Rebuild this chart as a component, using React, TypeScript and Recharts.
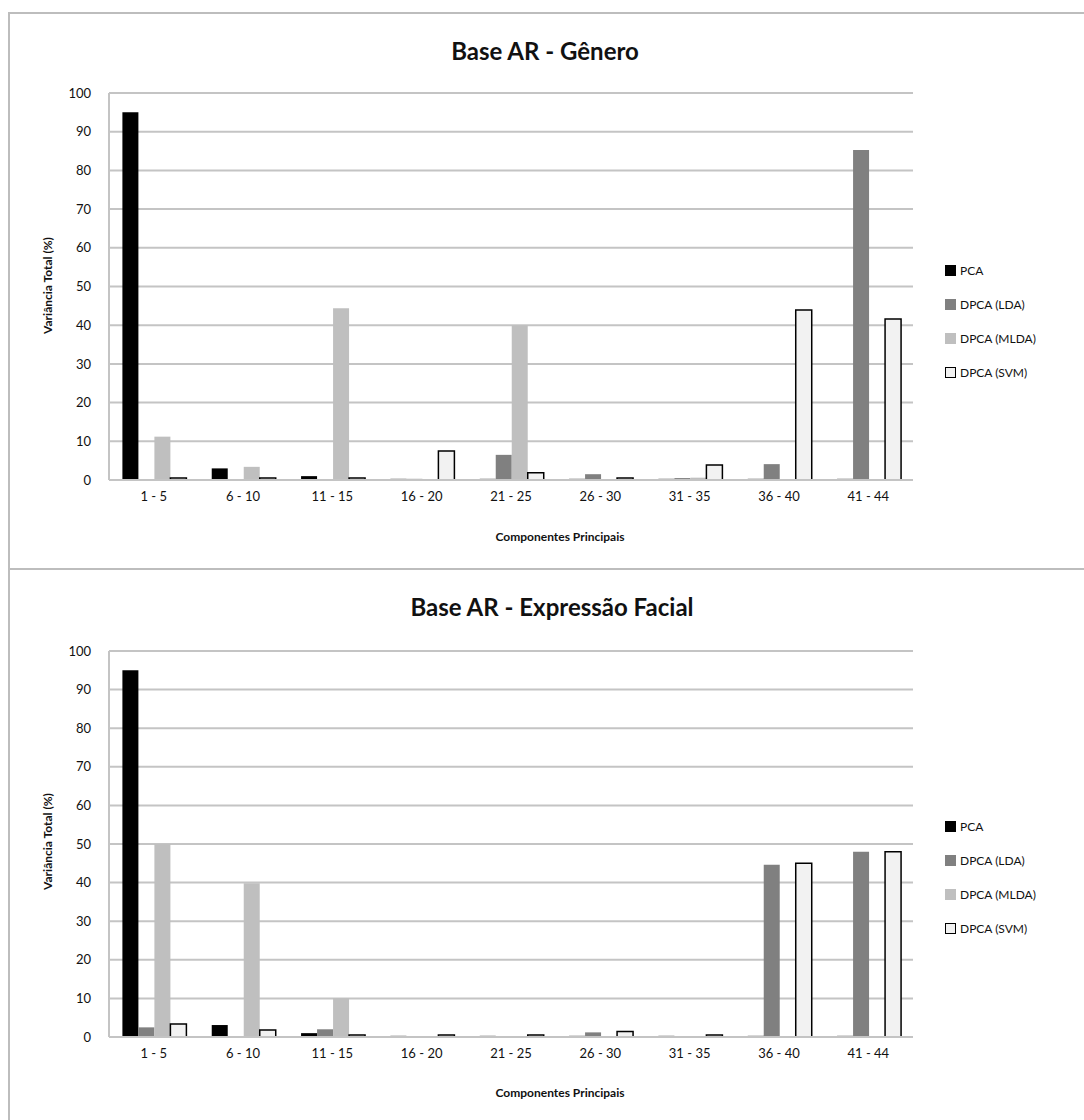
import { BarChart, Bar, XAxis, YAxis, CartesianGrid } from "recharts";

const categories = ["1 - 5", "6 - 10", "11 - 15", "16 - 20", "21 - 25", "26 - 30", "31 - 35", "36 - 40", "41 - 44"];
const yTicks = [0, 10, 20, 30, 40, 50, 60, 70, 80, 90, 100];

// Base AR - Gênero
const generoPCA = [95, 3, 1, 0.3, 0.3, 0.3, 0.3, 0.3, 0.3];
const generoLDA = [0, 0, 0, 0.3, 6.5, 1.5, 0.5, 4.1, 85.3];
const generoMLDA = [11.2, 3.4, 44.4, 0, 40, 0, 0.6, 0, 0];
const generoSVM = [0.5, 0.5, 0.5, 7.5, 1.9, 0.5, 3.9, 43.9, 41.6];

// Base AR - Expressão Facial
const expressaoPCA = [95, 3.1, 1, 0.3, 0.3, 0.3, 0.3, 0.3, 0.3];
const expressaoLDA = [2.5, 0.2, 2, 0.2, 0.2, 1.2, 0.2, 44.6, 48];
const expressaoMLDA = [50, 39.8, 10.1, 0, 0.2, 0, 0, 0, 0];
const expressaoSVM = [3.4, 1.8, 0.5, 0.5, 0.5, 1.4, 0.5, 45, 48];

const series = [
  { key: "pca", name: "PCA", fill: "#000000", stroke: "none" },
  { key: "lda", name: "DPCA (LDA)", fill: "#808080", stroke: "none" },
  { key: "mlda", name: "DPCA (MLDA)", fill: "#bfbfbf", stroke: "none" },
  { key: "svm", name: "DPCA (SVM)", fill: "#f2f2f2", stroke: "#000000" },
];

const FONT = "Lato, 'Open Sans', sans-serif";
const GRID = "#c4c4c4";

function buildRows(pca: number[], lda: number[], mlda: number[], svm: number[]) {
  return categories.map((c, i) => ({ faixa: c, pca: pca[i], lda: lda[i], mlda: mlda[i], svm: svm[i] }));
}

const generoRows = buildRows(generoPCA, generoLDA, generoMLDA, generoSVM);
const expressaoRows = buildRows(expressaoPCA, expressaoLDA, expressaoMLDA, expressaoSVM);

function LegendList({ top }: any) {
  return (
    <div style={{ position: "absolute", left: 935, top, fontFamily: FONT, fontSize: 12, color: "#111" }}>
      {series.map((s) => (
        <div key={s.key} style={{ display: "flex", alignItems: "center", height: 34 }}>
          <span
            style={{
              display: "inline-block",
              width: 9,
              height: 9,
              marginRight: 4,
              background: s.fill,
              border: s.stroke === "none" ? "1px solid " + s.fill : "1px solid #000",
            }}
          />
          {s.name}
        </div>
      ))}
    </div>
  );
}

function Panel({ top, height, title, rows, titleX, mTop, mBottom }: any) {
  return (
    <div
      style={{
        position: "absolute",
        left: 8,
        top,
        width: 1076,
        height,
        boxSizing: "border-box",
        border: "2px solid #bdbdbd",
        borderRight: "none",
        background: "#fff",
      }}
    >
      <div
        style={{
          position: "absolute",
          left: titleX - 300,
          width: 600,
          top: 22,
          textAlign: "center",
          fontFamily: FONT,
          fontWeight: 700,
          fontSize: 24,
          color: "#111",
        }}
      >
        {title}
      </div>
      <div
        style={{
          position: "absolute",
          left: 37 - 100,
          top: 272 - 8,
          width: 200,
          textAlign: "center",
          transform: "rotate(-90deg)",
          fontFamily: FONT,
          fontWeight: 700,
          fontSize: 12,
          color: "#111",
        }}
      >
        Variância Total (%)
      </div>
      <div
        style={{
          position: "absolute",
          left: 550 - 150,
          width: 300,
          top: 515,
          textAlign: "center",
          fontFamily: FONT,
          fontWeight: 700,
          fontSize: 12,
          color: "#111",
        }}
      >
        Componentes Principais
      </div>
      <BarChart
        width={1074}
        height={height - 4}
        data={rows}
        margin={{ top: mTop, right: 169, bottom: mBottom, left: 41 }}
        barCategoryGap="15%"
        barGap={0}
        style={{ position: "absolute", left: -2, top: -2 }}
      >
        <CartesianGrid vertical={false} stroke={GRID} strokeWidth={2} />
        <XAxis
          dataKey="faixa"
          height={30}
          tickLine={false}
          tickSize={0}
          tickMargin={12}
          axisLine={{ stroke: GRID, strokeWidth: 2 }}
          tick={{ fill: "#111", fontSize: 13, fontFamily: FONT }}
          interval={0}
        />
        <YAxis
          width={60}
          domain={[0, 100]}
          ticks={yTicks}
          tickLine={false}
          tickSize={0}
          tickMargin={18}
          axisLine={{ stroke: GRID, strokeWidth: 2 }}
          tick={{ fill: "#111", fontSize: 13, fontFamily: FONT }}
        />
        {series.map((s) => (
          <Bar
            key={s.key}
            dataKey={s.key}
            name={s.name}
            fill={s.fill}
            stroke={s.stroke}
            strokeWidth={s.stroke === "none" ? 0 : 1.5}
            isAnimationActive={false}
          />
        ))}
      </BarChart>
      <LegendList top={239} />
    </div>
  );
}

export default function App() {
  return (
    <div style={{ position: "absolute", left: 0, top: 0, width: 1084, height: 1120, overflow: "hidden", background: "#fff" }}>
      <Panel top={12} height={558} title="Base AR - Gênero" rows={generoRows} titleX={535} mTop={81} mBottom={56} />
      <Panel top={568} height={560} title="Base AR - Expressão Facial" rows={expressaoRows} titleX={542} mTop={83} mBottom={57} />
    </div>
  );
}
